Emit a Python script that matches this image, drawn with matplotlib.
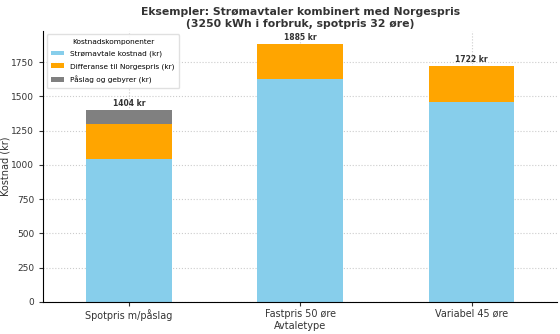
import matplotlib
matplotlib.use('Agg')
import matplotlib.pyplot as plt
import numpy as np

avtaler = ['Spotpris m/påslag', 'Fastpris 50 øre', 'Variabel 45 øre']
stromavtale = [1040, 1625, 1462]
differanse = [260, 260, 260]
paslag = [104, 0, 0]
totaler = [1404, 1885, 1722]

fig, ax = plt.subplots(figsize=(5.6, 3.34), dpi=100)
x = np.arange(len(avtaler))
w = 0.5

ax.bar(x, stromavtale, w, color='#87ceeb', label='Strømavtale kostnad (kr)')
ax.bar(x, differanse, w, bottom=stromavtale, color='#ffa500', label='Differanse til Norgespris (kr)')
bunn = np.array(stromavtale) + np.array(differanse)
ax.bar(x, paslag, w, bottom=bunn, color='#808080', label='Påslag og gebyrer (kr)')

for xi, tot in zip(x, totaler):
    ax.text(xi, tot + 15, f'{tot} kr', ha='center', va='bottom', fontsize=5.5,
            fontweight='bold', color='#333333')

ax.set_xticks(x)
ax.set_xticklabels(avtaler)
ax.tick_params(axis='both', labelsize=6.5, length=3, colors='#333333')
ax.tick_params(axis='x', labelsize=6.9, pad=2)
ax.set_xlim(-0.5, 2.5)
ax.set_ylim(0, 1980)
ax.set_yticks(range(0, 2000, 250))
ax.set_xlabel('Avtaletype', fontsize=7, labelpad=0, color='#333333')
ax.set_ylabel('Kostnad (kr)', fontsize=7, color='#333333')
ax.yaxis.set_label_coords(-0.064, 0.5)
ax.set_title('Eksempler: Strømavtaler kombinert med Norgespris\n(3250 kWh i forbruk, spotpris 32 øre)',
             fontsize=7.8, fontweight='bold', color='#333333', linespacing=1.15, pad=3)
ax.grid(True, linestyle=':', color='#cccccc', linewidth=0.8)
ax.set_axisbelow(True)
for s in ['top', 'right']:
    ax.spines[s].set_visible(False)

leg = ax.legend(title='Kostnadskomponenter', fontsize=5.3, title_fontsize=5.3,
                loc='upper left', framealpha=0.9, edgecolor='#dddddd',
                labelspacing=0.8, handlelength=1.8, handleheight=0.5,
                borderpad=0.6, bbox_to_anchor=(0.0, 1.0))

fig.subplots_adjust(left=0.077, right=0.995, top=0.908, bottom=0.096)
fig.savefig('out.png', dpi=100)
